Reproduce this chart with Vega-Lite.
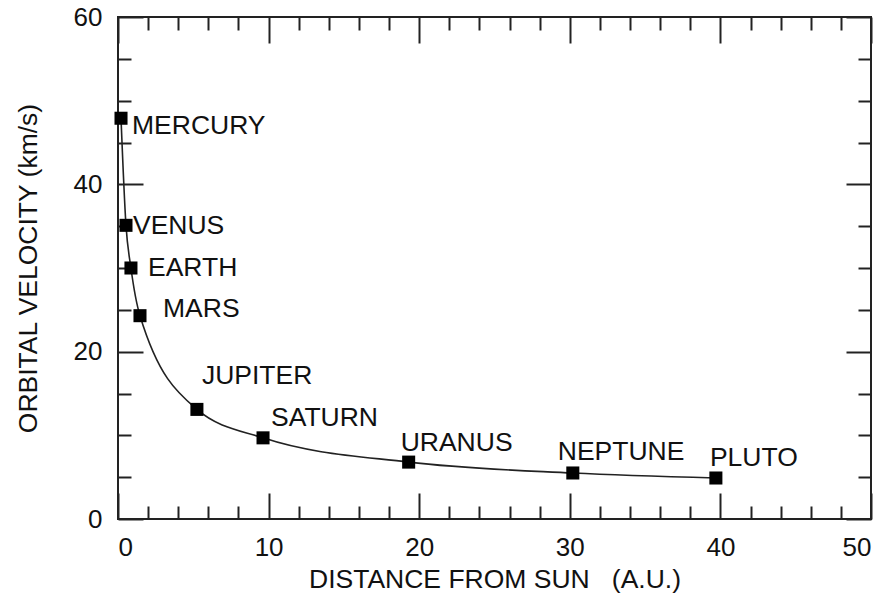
{
  "$schema": "https://vega.github.io/schema/vega-lite/v6.json",
  "width": 753,
  "height": 502,
  "autosize": {"type": "none"},
  "padding": {"left": 118, "top": 17, "right": 23, "bottom": 80},
  "background": "white",
  "config": {
    "view": {"stroke": "#222", "strokeWidth": 2},
    "font": "Liberation Sans",
    "axis": {"grid": false, "domain": false, "tickColor": "#222", "tickWidth": 2, "labelFont": "Liberation Sans", "titleFont": "Liberation Sans", "labelColor": "#111", "titleColor": "#111", "labelFontSize": 26, "titleFontSize": 26.5, "titleFontWeight": "normal"}
  },
  "data": {"values": [
    {"planet": "MERCURY", "distance": 0.2, "velocity": 47.9},
    {"planet": "VENUS", "distance": 0.53, "velocity": 35.1},
    {"planet": "EARTH", "distance": 0.86, "velocity": 30.0},
    {"planet": "MARS", "distance": 1.46, "velocity": 24.3},
    {"planet": "JUPITER", "distance": 5.24, "velocity": 13.1},
    {"planet": "SATURN", "distance": 9.63, "velocity": 9.7},
    {"planet": "URANUS", "distance": 19.3, "velocity": 6.8},
    {"planet": "NEPTUNE", "distance": 30.2, "velocity": 5.5},
    {"planet": "PLUTO", "distance": 39.7, "velocity": 4.9}
  ]},
  "resolve": {"axis": {"x": "independent", "y": "independent"}},
  "layer": [
    {
      "mark": {"type": "line", "color": "#222", "strokeWidth": 1.6, "interpolate": "monotone"},
      "encoding": {
        "x": {"field": "distance", "type": "quantitative", "scale": {"domain": [0, 50], "nice": false},
          "axis": {"orient": "bottom", "title": "DISTANCE FROM SUN\u00a0\u00a0\u00a0(A.U.)", "values": [0,2,4,6,8,10,12,14,16,18,20,22,24,26,28,30,32,34,36,38,40,42,44,46,48,50],
            "labelExpr": "datum.value % 10 === 0 ? datum.label : ''",
            "tickSize": {"condition": {"test": "datum.value % 10 === 0", "value": -26}, "value": -13},
            "labelPadding": 41, "titlePadding": 6}},
        "y": {"field": "velocity", "type": "quantitative", "scale": {"domain": [0, 60], "nice": false},
          "axis": {"orient": "left", "title": "ORBITAL VELOCITY (km/s)", "values": [0,5,10,15,20,25,30,35,40,45,50,55,60],
            "labelExpr": "datum.value % 20 === 0 ? datum.label : ''",
            "tickSize": {"condition": {"test": "datum.value % 20 === 0", "value": -25}, "value": -13},
            "labelPadding": 41, "titlePadding": 31}}
      }
    },
    {
      "mark": {"type": "square", "color": "#000", "filled": true, "opacity": 1, "size": 170},
      "encoding": {
        "x": {"field": "distance", "type": "quantitative",
          "axis": {"orient": "top", "title": null, "labels": false, "values": [0,2,4,6,8,10,12,14,16,18,20,22,24,26,28,30,32,34,36,38,40,42,44,46,48,50],
            "tickSize": {"condition": {"test": "datum.value % 10 === 0", "value": -26}, "value": -13}}},
        "y": {"field": "velocity", "type": "quantitative",
          "axis": {"orient": "right", "title": null, "labels": false, "values": [0,5,10,15,20,25,30,35,40,45,50,55,60],
            "tickSize": {"condition": {"test": "datum.value % 20 === 0", "value": -25}, "value": -13}}}
      }
    },
    {"transform": [{"filter": "datum.planet === 'MERCURY'"}], "mark": {"type": "text", "align": "left", "baseline": "middle", "fontSize": 26.5, "color": "#111", "dx": 11, "dy": 8},
      "encoding": {"x": {"field": "distance", "type": "quantitative", "axis": null}, "y": {"field": "velocity", "type": "quantitative", "axis": null}, "text": {"field": "planet"}}},
    {"transform": [{"filter": "datum.planet === 'VENUS'"}], "mark": {"type": "text", "align": "left", "baseline": "middle", "fontSize": 26.5, "color": "#111", "dx": 7, "dy": 1},
      "encoding": {"x": {"field": "distance", "type": "quantitative", "axis": null}, "y": {"field": "velocity", "type": "quantitative", "axis": null}, "text": {"field": "planet"}}},
    {"transform": [{"filter": "datum.planet === 'EARTH'"}], "mark": {"type": "text", "align": "left", "baseline": "middle", "fontSize": 26.5, "color": "#111", "dx": 17, "dy": 0},
      "encoding": {"x": {"field": "distance", "type": "quantitative", "axis": null}, "y": {"field": "velocity", "type": "quantitative", "axis": null}, "text": {"field": "planet"}}},
    {"transform": [{"filter": "datum.planet === 'MARS'"}], "mark": {"type": "text", "align": "left", "baseline": "middle", "fontSize": 26.5, "color": "#111", "dx": 23, "dy": -7},
      "encoding": {"x": {"field": "distance", "type": "quantitative", "axis": null}, "y": {"field": "velocity", "type": "quantitative", "axis": null}, "text": {"field": "planet"}}},
    {"transform": [{"filter": "datum.planet === 'JUPITER'"}], "mark": {"type": "text", "align": "left", "baseline": "middle", "fontSize": 26.5, "color": "#111", "dx": 5, "dy": -33},
      "encoding": {"x": {"field": "distance", "type": "quantitative", "axis": null}, "y": {"field": "velocity", "type": "quantitative", "axis": null}, "text": {"field": "planet"}}},
    {"transform": [{"filter": "datum.planet === 'SATURN'"}], "mark": {"type": "text", "align": "left", "baseline": "middle", "fontSize": 26.5, "color": "#111", "dx": 8, "dy": -20},
      "encoding": {"x": {"field": "distance", "type": "quantitative", "axis": null}, "y": {"field": "velocity", "type": "quantitative", "axis": null}, "text": {"field": "planet"}}},
    {"transform": [{"filter": "datum.planet === 'URANUS'"}], "mark": {"type": "text", "align": "left", "baseline": "middle", "fontSize": 26.5, "color": "#111", "dx": -8, "dy": -19},
      "encoding": {"x": {"field": "distance", "type": "quantitative", "axis": null}, "y": {"field": "velocity", "type": "quantitative", "axis": null}, "text": {"field": "planet"}}},
    {"transform": [{"filter": "datum.planet === 'NEPTUNE'"}], "mark": {"type": "text", "align": "left", "baseline": "middle", "fontSize": 26.5, "color": "#111", "dx": -15, "dy": -21},
      "encoding": {"x": {"field": "distance", "type": "quantitative", "axis": null}, "y": {"field": "velocity", "type": "quantitative", "axis": null}, "text": {"field": "planet"}}},
    {"transform": [{"filter": "datum.planet === 'PLUTO'"}], "mark": {"type": "text", "align": "left", "baseline": "middle", "fontSize": 26.5, "color": "#111", "dx": -6, "dy": -20},
      "encoding": {"x": {"field": "distance", "type": "quantitative", "axis": null}, "y": {"field": "velocity", "type": "quantitative", "axis": null}, "text": {"field": "planet"}}}
  ]
}
